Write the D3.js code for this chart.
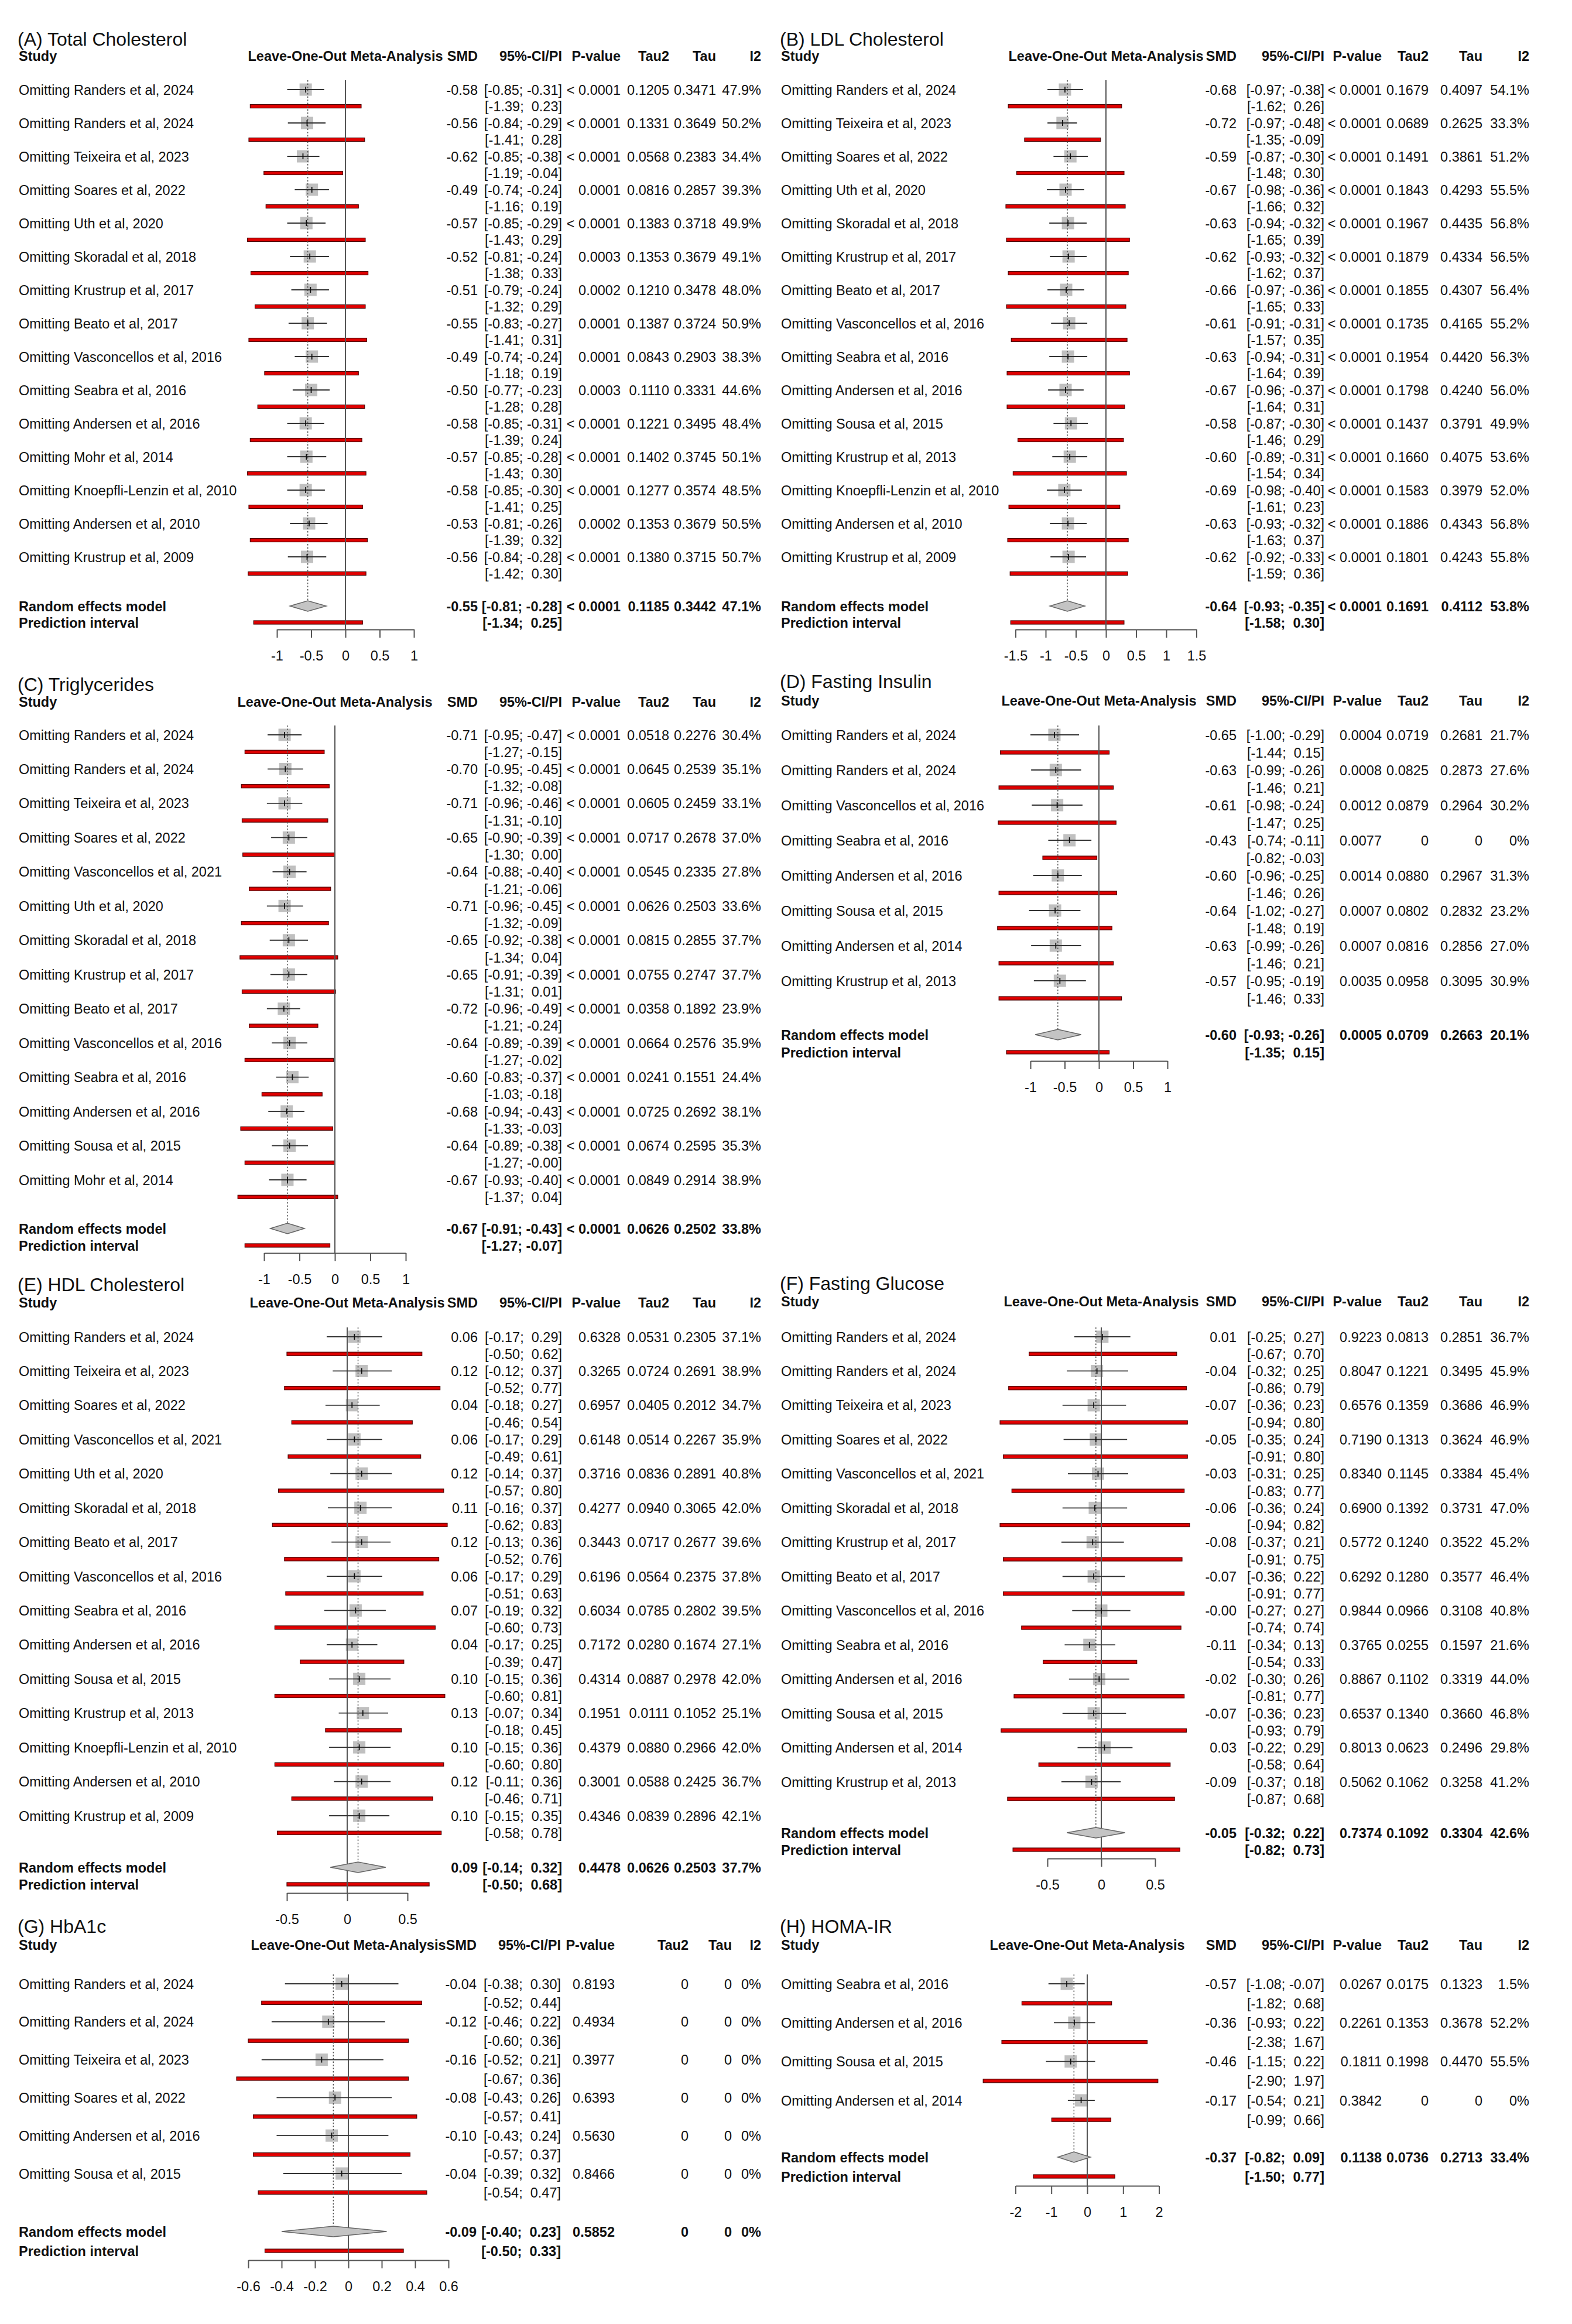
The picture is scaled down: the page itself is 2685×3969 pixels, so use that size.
<!DOCTYPE html>
<html><head><meta charset="utf-8">
<script src="https://cdn.jsdelivr.net/npm/d3@7"></script>
<style>
body{margin:0;background:#fff;}
svg text{font-family:"Liberation Sans",Arial,Helvetica,sans-serif;white-space:pre;}
</style></head><body>
<svg id="c" width="2685" height="3969"></svg>
<script>
// ---------------- DATA ----------------
// (A) Total Cholesterol
const A_study = ["Omitting Randers et al, 2024","Omitting Randers et al, 2024","Omitting Teixeira et al, 2023","Omitting Soares et al, 2022","Omitting Uth et al, 2020","Omitting Skoradal et al, 2018","Omitting Krustrup et al, 2017","Omitting Beato et al, 2017","Omitting Vasconcellos et al, 2016","Omitting Seabra et al, 2016","Omitting Andersen et al, 2016","Omitting Mohr et al, 2014","Omitting Knoepfli-Lenzin et al, 2010","Omitting Andersen et al, 2010","Omitting Krustrup et al, 2009"];
const A_smd = [-0.58,-0.56,-0.62,-0.49,-0.57,-0.52,-0.51,-0.55,-0.49,-0.50,-0.58,-0.57,-0.58,-0.53,-0.56];
const A_lo = [-0.85,-0.84,-0.85,-0.74,-0.85,-0.81,-0.79,-0.83,-0.74,-0.77,-0.85,-0.85,-0.85,-0.81,-0.84];
const A_hi = [-0.31,-0.29,-0.38,-0.24,-0.29,-0.24,-0.24,-0.27,-0.24,-0.23,-0.31,-0.28,-0.30,-0.26,-0.28];
const A_piLo = [-1.39,-1.41,-1.19,-1.16,-1.43,-1.38,-1.32,-1.41,-1.18,-1.28,-1.39,-1.43,-1.41,-1.39,-1.42];
const A_piHi = [0.23,0.28,-0.04,0.19,0.29,0.33,0.29,0.31,0.19,0.28,0.24,0.30,0.25,0.32,0.30];
const A_p = ["< 0.0001","< 0.0001","< 0.0001","0.0001","< 0.0001","0.0003","0.0002","0.0001","0.0001","0.0003","< 0.0001","< 0.0001","< 0.0001","0.0002","< 0.0001"];
const A_tau2 = [0.1205,0.1331,0.0568,0.0816,0.1383,0.1353,0.1210,0.1387,0.0843,0.1110,0.1221,0.1402,0.1277,0.1353,0.1380];
const A_tau = [0.3471,0.3649,0.2383,0.2857,0.3718,0.3679,0.3478,0.3724,0.2903,0.3331,0.3495,0.3745,0.3574,0.3679,0.3715];
const A_i2 = [47.9,50.2,34.4,39.3,49.9,49.1,48.0,50.9,38.3,44.6,48.4,50.1,48.5,50.5,50.7];
const A_model = [-0.55,-0.81,-0.28,-1.34,0.25];
const A_modelStats = ["< 0.0001",0.1185,0.3442,47.1];

// (B) LDL Cholesterol
const B_study = ["Omitting Randers et al, 2024","Omitting Teixeira et al, 2023","Omitting Soares et al, 2022","Omitting Uth et al, 2020","Omitting Skoradal et al, 2018","Omitting Krustrup et al, 2017","Omitting Beato et al, 2017","Omitting Vasconcellos et al, 2016","Omitting Seabra et al, 2016","Omitting Andersen et al, 2016","Omitting Sousa et al, 2015","Omitting Krustrup et al, 2013","Omitting Knoepfli-Lenzin et al, 2010","Omitting Andersen et al, 2010","Omitting Krustrup et al, 2009"];
const B_smd = [-0.68,-0.72,-0.59,-0.67,-0.63,-0.62,-0.66,-0.61,-0.63,-0.67,-0.58,-0.60,-0.69,-0.63,-0.62];
const B_lo = [-0.97,-0.97,-0.87,-0.98,-0.94,-0.93,-0.97,-0.91,-0.94,-0.96,-0.87,-0.89,-0.98,-0.93,-0.92];
const B_hi = [-0.38,-0.48,-0.30,-0.36,-0.32,-0.32,-0.36,-0.31,-0.31,-0.37,-0.30,-0.31,-0.40,-0.32,-0.33];
const B_piLo = [-1.62,-1.35,-1.48,-1.66,-1.65,-1.62,-1.65,-1.57,-1.64,-1.64,-1.46,-1.54,-1.61,-1.63,-1.59];
const B_piHi = [0.26,-0.09,0.30,0.32,0.39,0.37,0.33,0.35,0.39,0.31,0.29,0.34,0.23,0.37,0.36];
const B_p = ["< 0.0001","< 0.0001","< 0.0001","< 0.0001","< 0.0001","< 0.0001","< 0.0001","< 0.0001","< 0.0001","< 0.0001","< 0.0001","< 0.0001","< 0.0001","< 0.0001","< 0.0001"];
const B_tau2 = [0.1679,0.0689,0.1491,0.1843,0.1967,0.1879,0.1855,0.1735,0.1954,0.1798,0.1437,0.1660,0.1583,0.1886,0.1801];
const B_tau = [0.4097,0.2625,0.3861,0.4293,0.4435,0.4334,0.4307,0.4165,0.4420,0.4240,0.3791,0.4075,0.3979,0.4343,0.4243];
const B_i2 = [54.1,33.3,51.2,55.5,56.8,56.5,56.4,55.2,56.3,56.0,49.9,53.6,52.0,56.8,55.8];
const B_model = [-0.64,-0.93,-0.35,-1.58,0.30];
const B_modelStats = ["< 0.0001",0.1691,0.4112,53.8];

// (C) Triglycerides
const C_study = ["Omitting Randers et al, 2024","Omitting Randers et al, 2024","Omitting Teixeira et al, 2023","Omitting Soares et al, 2022","Omitting Vasconcellos et al, 2021","Omitting Uth et al, 2020","Omitting Skoradal et al, 2018","Omitting Krustrup et al, 2017","Omitting Beato et al, 2017","Omitting Vasconcellos et al, 2016","Omitting Seabra et al, 2016","Omitting Andersen et al, 2016","Omitting Sousa et al, 2015","Omitting Mohr et al, 2014"];
const C_smd = [-0.71,-0.70,-0.71,-0.65,-0.64,-0.71,-0.65,-0.65,-0.72,-0.64,-0.60,-0.68,-0.64,-0.67];
const C_lo = [-0.95,-0.95,-0.96,-0.90,-0.88,-0.96,-0.92,-0.91,-0.96,-0.89,-0.83,-0.94,-0.89,-0.93];
const C_hi = [-0.47,-0.45,-0.46,-0.39,-0.40,-0.45,-0.38,-0.39,-0.49,-0.39,-0.37,-0.43,-0.38,-0.40];
const C_piLo = [-1.27,-1.32,-1.31,-1.30,-1.21,-1.32,-1.34,-1.31,-1.21,-1.27,-1.03,-1.33,-1.27,-1.37];
const C_piHi = [-0.15,-0.08,-0.10,0.00,-0.06,-0.09,0.04,0.01,-0.24,-0.02,-0.18,-0.03,-0,0.04];
const C_p = ["< 0.0001","< 0.0001","< 0.0001","< 0.0001","< 0.0001","< 0.0001","< 0.0001","< 0.0001","< 0.0001","< 0.0001","< 0.0001","< 0.0001","< 0.0001","< 0.0001"];
const C_tau2 = [0.0518,0.0645,0.0605,0.0717,0.0545,0.0626,0.0815,0.0755,0.0358,0.0664,0.0241,0.0725,0.0674,0.0849];
const C_tau = [0.2276,0.2539,0.2459,0.2678,0.2335,0.2503,0.2855,0.2747,0.1892,0.2576,0.1551,0.2692,0.2595,0.2914];
const C_i2 = [30.4,35.1,33.1,37.0,27.8,33.6,37.7,37.7,23.9,35.9,24.4,38.1,35.3,38.9];
const C_model = [-0.67,-0.91,-0.43,-1.27,-0.07];
const C_modelStats = ["< 0.0001",0.0626,0.2502,33.8];

// (D) Fasting Insulin
const D_study = ["Omitting Randers et al, 2024","Omitting Randers et al, 2024","Omitting Vasconcellos et al, 2016","Omitting Seabra et al, 2016","Omitting Andersen et al, 2016","Omitting Sousa et al, 2015","Omitting Andersen et al, 2014","Omitting Krustrup et al, 2013"];
const D_smd = [-0.65,-0.63,-0.61,-0.43,-0.60,-0.64,-0.63,-0.57];
const D_lo = [-1.00,-0.99,-0.98,-0.74,-0.96,-1.02,-0.99,-0.95];
const D_hi = [-0.29,-0.26,-0.24,-0.11,-0.25,-0.27,-0.26,-0.19];
const D_piLo = [-1.44,-1.46,-1.47,-0.82,-1.46,-1.48,-1.46,-1.46];
const D_piHi = [0.15,0.21,0.25,-0.03,0.26,0.19,0.21,0.33];
const D_p = ["0.0004","0.0008","0.0012","0.0077","0.0014","0.0007","0.0007","0.0035"];
const D_tau2 = [0.0719,0.0825,0.0879,0,0.0880,0.0802,0.0816,0.0958];
const D_tau = [0.2681,0.2873,0.2964,0,0.2967,0.2832,0.2856,0.3095];
const D_i2 = [21.7,27.6,30.2,0,31.3,23.2,27.0,30.9];
const D_model = [-0.60,-0.93,-0.26,-1.35,0.15];
const D_modelStats = ["0.0005",0.0709,0.2663,20.1];

// (E) HDL Cholesterol
const E_study = ["Omitting Randers et al, 2024","Omitting Teixeira et al, 2023","Omitting Soares et al, 2022","Omitting Vasconcellos et al, 2021","Omitting Uth et al, 2020","Omitting Skoradal et al, 2018","Omitting Beato et al, 2017","Omitting Vasconcellos et al, 2016","Omitting Seabra et al, 2016","Omitting Andersen et al, 2016","Omitting Sousa et al, 2015","Omitting Krustrup et al, 2013","Omitting Knoepfli-Lenzin et al, 2010","Omitting Andersen et al, 2010","Omitting Krustrup et al, 2009"];
const E_smd = [0.06,0.12,0.04,0.06,0.12,0.11,0.12,0.06,0.07,0.04,0.10,0.13,0.10,0.12,0.10];
const E_lo = [-0.17,-0.12,-0.18,-0.17,-0.14,-0.16,-0.13,-0.17,-0.19,-0.17,-0.15,-0.07,-0.15,-0.11,-0.15];
const E_hi = [0.29,0.37,0.27,0.29,0.37,0.37,0.36,0.29,0.32,0.25,0.36,0.34,0.36,0.36,0.35];
const E_piLo = [-0.50,-0.52,-0.46,-0.49,-0.57,-0.62,-0.52,-0.51,-0.60,-0.39,-0.60,-0.18,-0.60,-0.46,-0.58];
const E_piHi = [0.62,0.77,0.54,0.61,0.80,0.83,0.76,0.63,0.73,0.47,0.81,0.45,0.80,0.71,0.78];
const E_p = ["0.6328","0.3265","0.6957","0.6148","0.3716","0.4277","0.3443","0.6196","0.6034","0.7172","0.4314","0.1951","0.4379","0.3001","0.4346"];
const E_tau2 = [0.0531,0.0724,0.0405,0.0514,0.0836,0.0940,0.0717,0.0564,0.0785,0.0280,0.0887,0.0111,0.0880,0.0588,0.0839];
const E_tau = [0.2305,0.2691,0.2012,0.2267,0.2891,0.3065,0.2677,0.2375,0.2802,0.1674,0.2978,0.1052,0.2966,0.2425,0.2896];
const E_i2 = [37.1,38.9,34.7,35.9,40.8,42.0,39.6,37.8,39.5,27.1,42.0,25.1,42.0,36.7,42.1];
const E_model = [0.09,-0.14,0.32,-0.50,0.68];
const E_modelStats = ["0.4478",0.0626,0.2503,37.7];

// (F) Fasting Glucose
const F_study = ["Omitting Randers et al, 2024","Omitting Randers et al, 2024","Omitting Teixeira et al, 2023","Omitting Soares et al, 2022","Omitting Vasconcellos et al, 2021","Omitting Skoradal et al, 2018","Omitting Krustrup et al, 2017","Omitting Beato et al, 2017","Omitting Vasconcellos et al, 2016","Omitting Seabra et al, 2016","Omitting Andersen et al, 2016","Omitting Sousa et al, 2015","Omitting Andersen et al, 2014","Omitting Krustrup et al, 2013"];
const F_smd = [0.01,-0.04,-0.07,-0.05,-0.03,-0.06,-0.08,-0.07,-0,-0.11,-0.02,-0.07,0.03,-0.09];
const F_lo = [-0.25,-0.32,-0.36,-0.35,-0.31,-0.36,-0.37,-0.36,-0.27,-0.34,-0.30,-0.36,-0.22,-0.37];
const F_hi = [0.27,0.25,0.23,0.24,0.25,0.24,0.21,0.22,0.27,0.13,0.26,0.23,0.29,0.18];
const F_piLo = [-0.67,-0.86,-0.94,-0.91,-0.83,-0.94,-0.91,-0.91,-0.74,-0.54,-0.81,-0.93,-0.58,-0.87];
const F_piHi = [0.70,0.79,0.80,0.80,0.77,0.82,0.75,0.77,0.74,0.33,0.77,0.79,0.64,0.68];
const F_p = ["0.9223","0.8047","0.6576","0.7190","0.8340","0.6900","0.5772","0.6292","0.9844","0.3765","0.8867","0.6537","0.8013","0.5062"];
const F_tau2 = [0.0813,0.1221,0.1359,0.1313,0.1145,0.1392,0.1240,0.1280,0.0966,0.0255,0.1102,0.1340,0.0623,0.1062];
const F_tau = [0.2851,0.3495,0.3686,0.3624,0.3384,0.3731,0.3522,0.3577,0.3108,0.1597,0.3319,0.3660,0.2496,0.3258];
const F_i2 = [36.7,45.9,46.9,46.9,45.4,47.0,45.2,46.4,40.8,21.6,44.0,46.8,29.8,41.2];
const F_model = [-0.05,-0.32,0.22,-0.82,0.73];
const F_modelStats = ["0.7374",0.1092,0.3304,42.6];

// (G) HbA1c
const G_study = ["Omitting Randers et al, 2024","Omitting Randers et al, 2024","Omitting Teixeira et al, 2023","Omitting Soares et al, 2022","Omitting Andersen et al, 2016","Omitting Sousa et al, 2015"];
const G_smd = [-0.04,-0.12,-0.16,-0.08,-0.10,-0.04];
const G_lo = [-0.38,-0.46,-0.52,-0.43,-0.43,-0.39];
const G_hi = [0.30,0.22,0.21,0.26,0.24,0.32];
const G_piLo = [-0.52,-0.60,-0.67,-0.57,-0.57,-0.54];
const G_piHi = [0.44,0.36,0.36,0.41,0.37,0.47];
const G_p = ["0.8193","0.4934","0.3977","0.6393","0.5630","0.8466"];
const G_tau2 = [0,0,0,0,0,0];
const G_tau = [0,0,0,0,0,0];
const G_i2 = [0,0,0,0,0,0];
const G_model = [-0.09,-0.40,0.23,-0.50,0.33];
const G_modelStats = ["0.5852",0,0,0];

// (H) HOMA-IR
const H_study = ["Omitting Seabra et al, 2016","Omitting Andersen et al, 2016","Omitting Sousa et al, 2015","Omitting Andersen et al, 2014"];
const H_smd = [-0.57,-0.36,-0.46,-0.17];
const H_lo = [-1.08,-0.93,-1.15,-0.54];
const H_hi = [-0.07,0.22,0.22,0.21];
const H_piLo = [-1.82,-2.38,-2.90,-0.99];
const H_piHi = [0.68,1.67,1.97,0.66];
const H_p = ["0.0267","0.2261","0.1811","0.3842"];
const H_tau2 = [0.0175,0.1353,0.1998,0];
const H_tau = [0.1323,0.3678,0.4470,0];
const H_i2 = [1.5,52.2,55.5,0];
const H_model = [-0.37,-0.82,0.09,-1.50,0.77];
const H_modelStats = ["0.1138",0.0736,0.2713,33.4];

// axis tick values
const ticksA = [-1,-0.5,0,0.5,1];
const ticksB = [-1.5,-1,-0.5,0,0.5,1,1.5];
const ticksC = [-1,-0.5,0,0.5,1];
const ticksD = [-1,-0.5,0,0.5,1];
const ticksE = [-0.5,0,0.5];
const ticksF = [-0.5,0,0.5];
const ticksG = [-0.6,-0.4,-0.2,0,0.2,0.4,0.6];
const ticksH = [-2,-1,0,1,2];

// ---------------- LAYOUT ----------------
const colsL = {smd:816, ci:960, p:1060, tau2:1143, tau:1223, i2:1300};
const colsR = {smd:2112, ci:2262, p:2360, tau2:2440, tau:2532, i2:2612};
const colsG = {smd:814, ci:958, p:1050, tau2:1176, tau:1250, i2:1300};

const panels = [
 {title:"(A) Total Cholesterol", x0:32, titleY:78, headY:104, rows:[153,951], sumY:1035, piY:1063, axisY:1075, zero:590, unit:117, ticks:ticksA, cols:colsL,
  d:[A_study,A_smd,A_lo,A_hi,A_piLo,A_piHi,A_p,A_tau2,A_tau,A_i2], m:A_model, ms:A_modelStats},
 {title:"(B) LDL Cholesterol", x0:1334, titleY:78, headY:104, rows:[153,951], sumY:1035, piY:1063, axisY:1075, zero:1889, unit:103, ticks:ticksB, cols:colsR,
  d:[B_study,B_smd,B_lo,B_hi,B_piLo,B_piHi,B_p,B_tau2,B_tau,B_i2], m:B_model, ms:B_modelStats},
 {title:"(C) Triglycerides", x0:32, titleY:1180, headY:1207, rows:[1255,2015], sumY:2098, piY:2127, axisY:2140, zero:572, unit:121, ticks:ticksC, cols:colsL,
  d:[C_study,C_smd,C_lo,C_hi,C_piLo,C_piHi,C_p,C_tau2,C_tau,C_i2], m:C_model, ms:C_modelStats},
 {title:"(D) Fasting Insulin", x0:1334, titleY:1175, headY:1205, rows:[1255,1675], sumY:1767, piY:1797, axisY:1812, zero:1877, unit:117, ticks:ticksD, cols:colsR,
  d:[D_study,D_smd,D_lo,D_hi,D_piLo,D_piHi,D_p,D_tau2,D_tau,D_i2], m:D_model, ms:D_modelStats},
 {title:"(E) HDL Cholesterol", x0:32, titleY:2205, headY:2233, rows:[2283,3101], sumY:3189, piY:3218, axisY:3233, zero:593, unit:206, ticks:ticksE, cols:colsL,
  d:[E_study,E_smd,E_lo,E_hi,E_piLo,E_piHi,E_p,E_tau2,E_tau,E_i2], m:E_model, ms:E_modelStats},
 {title:"(F) Fasting Glucose", x0:1334, titleY:2203, headY:2231, rows:[2283,3043], sumY:3130, piY:3159, axisY:3174, zero:1881, unit:184, ticks:ticksF, cols:colsR,
  d:[F_study,F_smd,F_lo,F_hi,F_piLo,F_piHi,F_p,F_tau2,F_tau,F_i2], m:F_model, ms:F_modelStats},
 {title:"(G) HbA1c", x0:32, titleY:3301, headY:3330, rows:[3388,3712], sumY:3811, piY:3844, axisY:3860, zero:595, unit:285, ticks:ticksG, cols:colsG,
  d:[G_study,G_smd,G_lo,G_hi,G_piLo,G_piHi,G_p,G_tau2,G_tau,G_i2], m:G_model, ms:G_modelStats},
 {title:"(H) HOMA-IR", x0:1334, titleY:3301, headY:3330, rows:[3388,3587], sumY:3684, piY:3717, axisY:3733, zero:1857, unit:61.3, ticks:ticksH, cols:colsR,
  d:[H_study,H_smd,H_lo,H_hi,H_piLo,H_piHi,H_p,H_tau2,H_tau,H_i2], m:H_model, ms:H_modelStats}
];

// ---------------- DRAW ----------------
const FONT = '"Liberation Sans", Arial, Helvetica, sans-serif';
const FS = 23.5;
const isNeg = v => v < 0 || Object.is(v, -0);
const f2 = v => (isNeg(v) ? "-" : "") + Math.abs(v).toFixed(2);
const ciTxt = (lo, hi) => "[" + f2(lo) + ";" + (isNeg(hi) ? " " : "  ") + f2(hi) + "]";
const fTau = v => v === 0 ? "0" : v.toFixed(4);
const fI2 = v => v === 0 ? "0%" : v.toFixed(1) + "%";

const svg = d3.select("#c");
svg.append("rect").attr("width",2685).attr("height",3969).attr("fill","#fff");

function txt(g, x, y, s, o = {}) {
  return g.append("text").attr("x", x).attr("y", y)
    .attr("text-anchor", o.anchor || "start")
    .attr("font-size", o.size || FS)
    .attr("font-weight", o.bold ? "bold" : "normal")
    .attr("fill", "#111")
    .style("white-space", "pre")
    .text(s);
}

panels.forEach(p => {
  const [study, smd, lo, hi, piLo, piHi, pv, tau2, tau, i2] = p.d;
  const n = study.length;
  const g = svg.append("g");
  const dom = [p.ticks[0], p.ticks[p.ticks.length - 1]];
  const x = d3.scaleLinear().domain(dom).range([p.zero + dom[0] * p.unit, p.zero + dom[1] * p.unit]);
  const y = d3.scaleLinear().domain([0, n - 1]).range(p.rows);
  const step = (p.rows[1] - p.rows[0]) / (n - 1);
  const off = step / 2;
  const base = 8.5;
  const c = p.cols;

  // titles and headers
  txt(g, p.x0 - 2, p.titleY, p.title, {size: 32});
  txt(g, p.x0, p.headY, "Study", {bold: true});
  txt(g, x((dom[0] + dom[1]) / 2), p.headY, "Leave-One-Out Meta-Analysis", {bold: true, anchor: "middle"});
  txt(g, c.smd, p.headY, "SMD", {bold: true, anchor: "end"});
  txt(g, c.ci, p.headY, "95%-CI/PI", {bold: true, anchor: "end"});
  txt(g, c.p, p.headY, "P-value", {bold: true, anchor: "end"});
  txt(g, c.tau2, p.headY, "Tau2", {bold: true, anchor: "end"});
  txt(g, c.tau, p.headY, "Tau", {bold: true, anchor: "end"});
  txt(g, c.i2, p.headY, "I2", {bold: true, anchor: "end"});

  const idx = d3.range(n);

  // prediction interval bars
  const piH = 6;
  g.selectAll("rect.pi").data(idx).join("rect").attr("class", "pi")
    .attr("x", i => x(piLo[i])).attr("width", i => x(piHi[i]) - x(piLo[i]))
    .attr("y", i => y(i) + off - piH / 2).attr("height", piH)
    .attr("fill", "#e00000").attr("stroke", "#4a0000").attr("stroke-width", 1.2);
  g.append("rect")
    .attr("x", x(p.m[3])).attr("width", x(p.m[4]) - x(p.m[3]))
    .attr("y", p.piY - piH / 2).attr("height", piH)
    .attr("fill", "#e00000").attr("stroke", "#4a0000").attr("stroke-width", 1.2);

  // squares
  const sq = 21;
  g.selectAll("rect.sq").data(idx).join("rect").attr("class", "sq")
    .attr("x", i => x(smd[i]) - sq / 2).attr("y", i => y(i) - sq / 2)
    .attr("width", sq).attr("height", sq).attr("fill", "#c0c0c0");

  // zero line and summary dotted line
  const topY = p.rows[0] - 16;
  g.append("line").attr("x1", x(0)).attr("x2", x(0)).attr("y1", topY).attr("y2", p.axisY)
    .attr("stroke", "#555").attr("stroke-width", 2);
  const dh = 9;
  g.append("line").attr("x1", x(p.m[0])).attr("x2", x(p.m[0])).attr("y1", topY).attr("y2", p.sumY - dh)
    .attr("stroke", "#555").attr("stroke-width", 1.5).attr("stroke-dasharray", "2.5,3");

  // CI lines
  g.selectAll("line.ci").data(idx).join("line").attr("class", "ci")
    .attr("x1", i => x(lo[i])).attr("x2", i => x(hi[i]))
    .attr("y1", i => y(i)).attr("y2", i => y(i))
    .attr("stroke", "#333").attr("stroke-width", 1.8);
  g.selectAll("line.ct").data(idx).join("line").attr("class", "ct")
    .attr("x1", i => x(smd[i])).attr("x2", i => x(smd[i]))
    .attr("y1", i => y(i) - 5).attr("y2", i => y(i) + 5)
    .attr("stroke", "#111").attr("stroke-width", 1.8);

  // diamond
  const dpath = d3.path();
  dpath.moveTo(x(p.m[1]), p.sumY);
  dpath.lineTo(x(p.m[0]), p.sumY - dh);
  dpath.lineTo(x(p.m[2]), p.sumY);
  dpath.lineTo(x(p.m[0]), p.sumY + dh);
  dpath.closePath();
  g.append("path").attr("d", dpath.toString()).attr("fill", "#c4c4c4").attr("stroke", "#666").attr("stroke-width", 1.5);

  // axis
  const ax = d3.axisBottom(x).tickValues(p.ticks).tickSize(14).tickSizeOuter(0).tickPadding(22)
    .tickFormat(d => String(d));
  const axg = g.append("g").attr("transform", `translate(0,${p.axisY})`).call(ax)
    .attr("font-size", FS).attr("font-family", FONT);
  axg.select(".domain").attr("stroke", "#555").attr("stroke-width", 2);
  axg.selectAll(".tick line").attr("stroke", "#555").attr("stroke-width", 2);
  axg.selectAll(".tick text").attr("fill", "#111");

  // row labels and table
  idx.forEach(i => {
    const yy = y(i) + base;
    txt(g, p.x0, yy, study[i]);
    txt(g, c.smd, yy, f2(smd[i]), {anchor: "end"});
    txt(g, c.ci, yy, ciTxt(lo[i], hi[i]), {anchor: "end"});
    txt(g, c.ci, yy + off, ciTxt(piLo[i], piHi[i]), {anchor: "end"});
    txt(g, c.p, yy, pv[i], {anchor: "end"});
    txt(g, c.tau2, yy, fTau(tau2[i]), {anchor: "end"});
    txt(g, c.tau, yy, fTau(tau[i]), {anchor: "end"});
    txt(g, c.i2, yy, fI2(i2[i]), {anchor: "end"});
  });

  // summary
  const sy = p.sumY + base, py = p.piY + base;
  txt(g, p.x0, sy, "Random effects model", {bold: true});
  txt(g, p.x0, py, "Prediction interval", {bold: true});
  txt(g, c.smd, sy, f2(p.m[0]), {bold: true, anchor: "end"});
  txt(g, c.ci, sy, ciTxt(p.m[1], p.m[2]), {bold: true, anchor: "end"});
  txt(g, c.ci, py, ciTxt(p.m[3], p.m[4]), {bold: true, anchor: "end"});
  txt(g, c.p, sy, p.ms[0], {bold: true, anchor: "end"});
  txt(g, c.tau2, sy, fTau(p.ms[1]), {bold: true, anchor: "end"});
  txt(g, c.tau, sy, fTau(p.ms[2]), {bold: true, anchor: "end"});
  txt(g, c.i2, sy, fI2(p.ms[3]), {bold: true, anchor: "end"});
});
</script>
</body></html>
